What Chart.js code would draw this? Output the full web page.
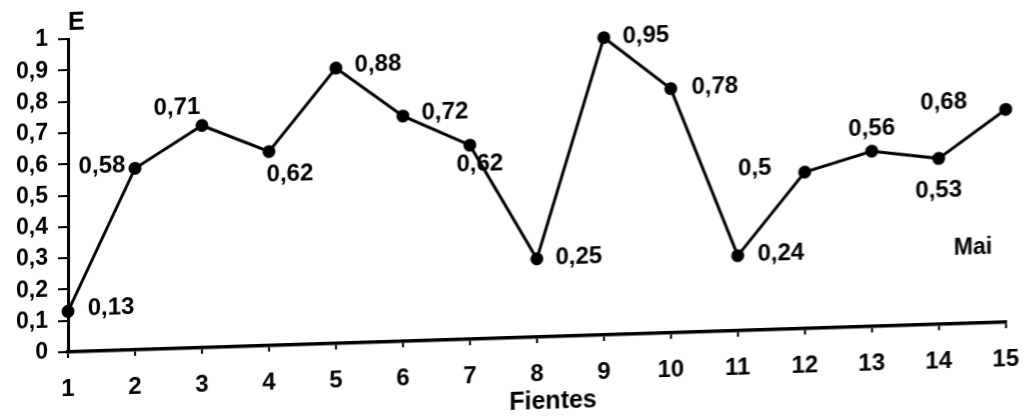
<!DOCTYPE html>
<html>
<head>
<meta charset="utf-8">
<script src="https://cdn.jsdelivr.net/npm/chart.js@4.4.0/dist/chart.umd.min.js"></script>
<style>
html, body { margin: 0; padding: 0; background: #fff; overflow: hidden; width: 1036px; height: 417px; }
#wrap { position: absolute; left: 0; top: 0; width: 1036px; height: 440px;
        transform-origin: 68px 352px; transform: skewY(-1.82deg); }
canvas { display: block; }
</style>
</head>
<body>
<div id="wrap"><canvas id="c" width="1036" height="440"></canvas></div>
<script>
// ---- data ----
const categories = ['1','2','3','4','5','6','7','8','9','10','11','12','13','14','15'];
const values = [0.13, 0.58, 0.71, 0.62, 0.88, 0.72, 0.62, 0.25, 0.95, 0.78, 0.24, 0.5, 0.56, 0.53, 0.68];
const yTickLabels = ['0','0,1','0,2','0,3','0,4','0,5','0,6','0,7','0,8','0,9','1'];
const yAxisTitle = 'E';
const xAxisTitle = 'Fientes';
const seriesName = 'Mai';

// ---- label placement (style, not data): [dx, dy] of label centre from its point ----
const labelOffsets = [[43,-2],[-33,-3],[-25,-18],[21,23],[42,-2],[42,-2],[10,19],[42,0],
                      [42,0],[44,0],[43,-1],[-50,-5],[0,-22],[0,32],[-62,-9]];

const FONT = '"Liberation Sans", Arial, sans-serif';
const fmt = v => String(v).replace('.', ',');

const labelsPlugin = {
  id: 'pointLabels',
  afterDatasetsDraw(chart) {
    const ctx = chart.ctx;
    const meta = chart.getDatasetMeta(0);
    ctx.save();
    ctx.fillStyle = '#000';
    ctx.font = 'bold 24px ' + FONT;
    ctx.textAlign = 'center';
    ctx.textBaseline = 'middle';
    meta.data.forEach((pt, i) => {
      const o = labelOffsets[i];
      ctx.fillText(fmt(values[i]), pt.x + o[0], pt.y + o[1]);
    });
    ctx.restore();
  }
};

const titlesPlugin = {
  id: 'titles',
  afterDraw(chart) {
    const ctx = chart.ctx;
    const a = chart.chartArea;
    ctx.save();
    ctx.fillStyle = '#000';
    ctx.textBaseline = 'middle';
    ctx.font = 'bold 25px ' + FONT;
    ctx.textAlign = 'left';
    ctx.fillText(yAxisTitle, a.left, a.top - 16);
    ctx.textAlign = 'center';
    ctx.fillText(xAxisTitle, 553, 417);
    ctx.font = 'bold 23px ' + FONT;
    ctx.fillText(seriesName, 973, 277);
    ctx.restore();
  }
};

new Chart(document.getElementById('c'), {
  type: 'line',
  data: {
    labels: categories,
    datasets: [{
      label: seriesName,
      data: values,
      borderColor: '#000',
      backgroundColor: '#000',
      borderWidth: 3,
      pointRadius: 5,
      pointBackgroundColor: '#000',
      pointBorderColor: '#000',
      tension: 0,
      fill: false
    }]
  },
  options: {
    responsive: false,
    animation: false,
    events: [],
    layout: { padding: { top: 39, right: 26, bottom: 0, left: 0 } },
    plugins: { legend: { display: false }, tooltip: { enabled: false }, title: { display: false } },
    scales: {
      x: {
        type: 'category',
        offset: false,
        afterFit(s) { s.height = 88; },
        border: { display: true, color: '#000', width: 3.5 },
        grid: { display: true, drawOnChartArea: false, drawTicks: true, tickLength: 6, color: '#000', lineWidth: 2 },
        ticks: { color: '#000', font: { family: FONT, size: 24, weight: 'bold' }, padding: 17, maxRotation: 0, autoSkip: false }
      },
      y: {
        min: 0, max: 1,
        afterFit(s) { s.width = 68; },
        border: { display: true, color: '#000', width: 3 },
        grid: { display: true, drawOnChartArea: false, drawTicks: true, tickLength: 10, color: '#000', lineWidth: 2 },
        ticks: {
          stepSize: 0.1,
          color: '#000',
          padding: 10,
          font: { family: FONT, size: 23, weight: 'bold' },
          callback: (v, i) => yTickLabels[i]
        }
      }
    }
  },
  plugins: [labelsPlugin, titlesPlugin]
});
</script>
</body>
</html>
